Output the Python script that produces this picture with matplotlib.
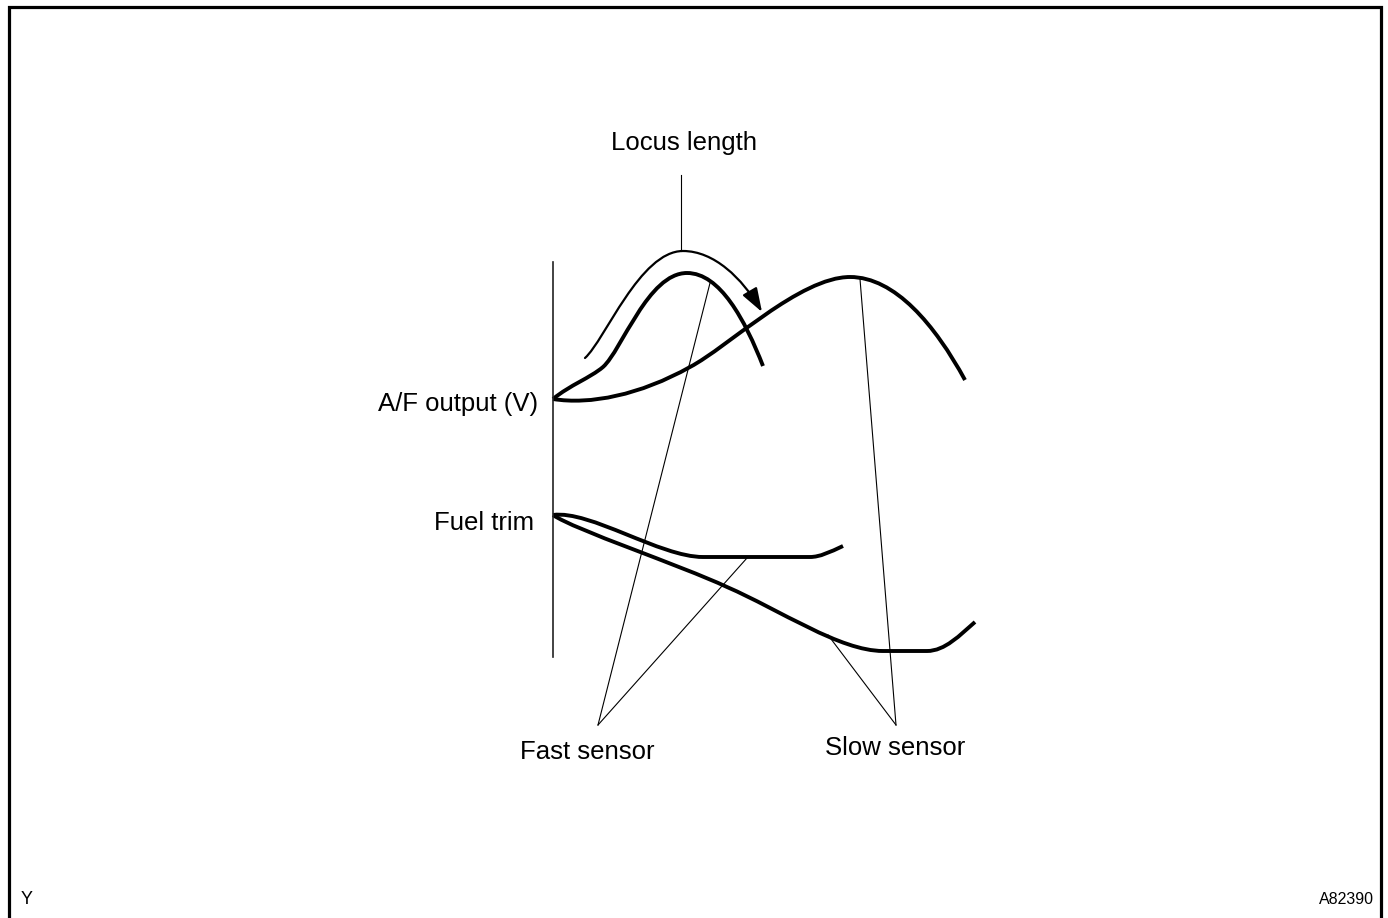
import matplotlib.pyplot as plt
from matplotlib.path import Path
from matplotlib.patches import PathPatch, FancyArrowPatch

plt.rcParams['font.family'] = ['Liberation Sans', 'DejaVu Sans']

# all positions in picture pixels (x right, y down)
# curves are chains of cubic Bezier segments: start, then (c1, c2, end) triples
af_fast = [(553, 399), (570, 385), (590, 378), (603, 367),
           (622, 350), (648, 273), (687, 273),
           (720, 273), (745, 320), (763, 366)]
af_slow = [(553, 399), (590, 405), (640, 395), (690, 367),
           (728, 347), (800, 277), (850, 277),
           (895, 277), (935, 325), (965, 380)]
locus_arrow = [(585, 358), (605, 340), (640, 251), (683, 251),
               (714, 251), (742, 278), (762, 312)]
trim_fast = [(553, 515), (590, 510), (660, 557), (703, 557),
             (740, 557), (775, 557), (810, 557),
             (820, 557), (830, 552), (843, 546)]
trim_slow = [(553, 515), (575, 530), (680, 565), (727, 587),
             (780, 610), (840, 651), (883, 651),
             (898, 651), (912, 651), (927, 651),
             (945, 651), (960, 635), (975, 622)]

axis_line = [(553, 262), (553, 657)]
locus_leader = [(681, 175), (681, 251)]
fast_leaders = [[(598, 725), (710, 283)], [(598, 725), (747, 558)]]
slow_leaders = [[(896, 725), (860, 279)], [(896, 725), (828, 635)]]

labels = [
    ('Locus length', 684, 143, 'center'),
    ('A/F output (V)', 538, 404, 'right'),
    ('Fuel trim', 534, 523, 'right'),
    ('Fast sensor', 587, 752, 'center'),
    ('Slow sensor', 895, 748, 'center'),
]


def bezier(points):
    codes = [Path.MOVETO] + [Path.CURVE4] * (len(points) - 1)
    return Path(points, codes)


fig = plt.figure(figsize=(13.88, 9.18), dpi=100)
ax = fig.add_axes([0, 0, 1, 1])
ax.set_xlim(0, 1388)
ax.set_ylim(918, 0)
ax.axis('off')

# frame (open at the bottom edge)
ax.plot([9.5, 9.5, 1381, 1381], [940, 6.5, 6.5, 940], color='black', lw=2.3,
        solid_joinstyle='miter')

ax.plot(*zip(*axis_line), color='#222222', lw=1.2)
ax.plot(*zip(*locus_leader), color='black', lw=0.8)

for curve in [af_fast, af_slow, trim_fast, trim_slow]:
    ax.add_patch(PathPatch(bezier(curve), fill=False, lw=2.8,
                           edgecolor='black', capstyle='butt'))

arrow = FancyArrowPatch(path=bezier(locus_arrow),
                        arrowstyle='-|>,head_length=1.45,head_width=0.5',
                        mutation_scale=10, lw=1.6, color='black')
ax.add_patch(arrow)

for seg in fast_leaders + slow_leaders:
    ax.plot(*zip(*seg), color='black', lw=0.8)

for text, x, y, ha in labels:
    ax.text(x, y, text, ha=ha, va='center', fontsize=18.5)

ax.text(21, 899, 'Y', ha='left', va='center', fontsize=13)
ax.text(1374, 900, 'A82390', ha='right', va='center', fontsize=11.5)

fig.savefig('out.png', dpi=100)
